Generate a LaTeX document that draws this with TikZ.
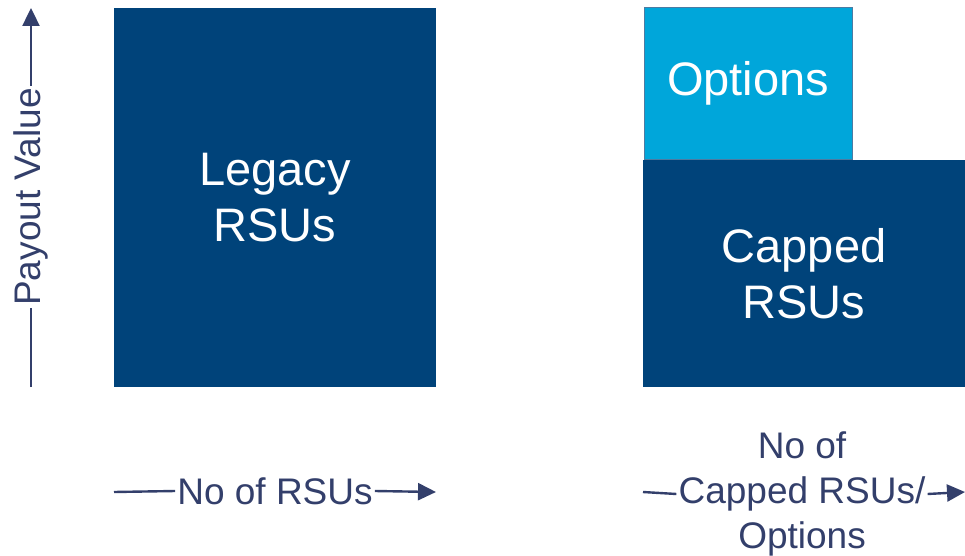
\documentclass[tikz,border=0pt]{standalone}
\usepackage{fontspec}
\setmainfont{Liberation Sans}
\usetikzlibrary{positioning,arrows.meta}
\definecolor{rsublue}{RGB}{0,67,122}
\definecolor{optblue}{RGB}{0,166,218}
\definecolor{axisgrey}{RGB}{51,63,107}

\begin{document}
\begin{tikzpicture}[x=1pt, y=-1pt,
        rsubox/.style={rectangle, fill=rsublue, text=white, align=center, inner sep=0pt, font=\fontsize{47}{56}\selectfont},
        optbox/.style={rectangle, fill=optblue, draw=rsublue!70, thin, text=white, inner sep=0pt, font=\fontsize{47}{56}\selectfont},
        axislabel/.style={text=axisgrey, align=center, inner sep=2pt, font=\fontsize{37}{45}\selectfont},
        axisline/.style={draw=axisgrey, line width=2.4pt},
        axisarrow/.style={axisline, -{Triangle[length=18pt,width=17pt]}},
]
        \useasboundingbox (0,0) rectangle (965,556);

        % payout blocks
        \node[rsubox, minimum width=322pt, minimum height=379pt] (legacy) at (275,197.5) {Legacy\\RSUs};
        \node[rsubox, minimum width=322pt, minimum height=227pt] (capped) at (804,273.5) {Capped\\RSUs};
        \node[optbox, minimum width=208pt, minimum height=152pt, anchor=south west] (options) at ([xshift=1pt]capped.north west) {Options};

        % vertical axis
        \coordinate (ybot) at (31,387);
        \coordinate (ytop) at (31,8);
        \node[axislabel, rotate=90] (ylab) at (31,197) {Payout Value};
        \draw[axisline] (ybot) -- (ylab.west);
        \draw[axisarrow] (ylab.east) -- (ytop);

        % horizontal axes
        \coordinate (xleft) at (114,492);
        \coordinate (xlefttip) at (436,492);
        \node[axislabel] (xlab) at (275,491) {No of RSUs};
        \draw[axisline] (xleft) -- (xlab.west);
        \draw[axisarrow] (xlab.east) -- (xlefttip);

        \coordinate (xright) at (643,492);
        \coordinate (xrighttip) at (965,492);
        \node[axislabel] (xlabr) at (802,494) {No of\\Capped RSUs/\\Options};
        \draw[axisline] (xright) -- (xlabr.west);
        \draw[axisarrow] (xlabr.east) -- (xrighttip);
\end{tikzpicture}
\end{document}
